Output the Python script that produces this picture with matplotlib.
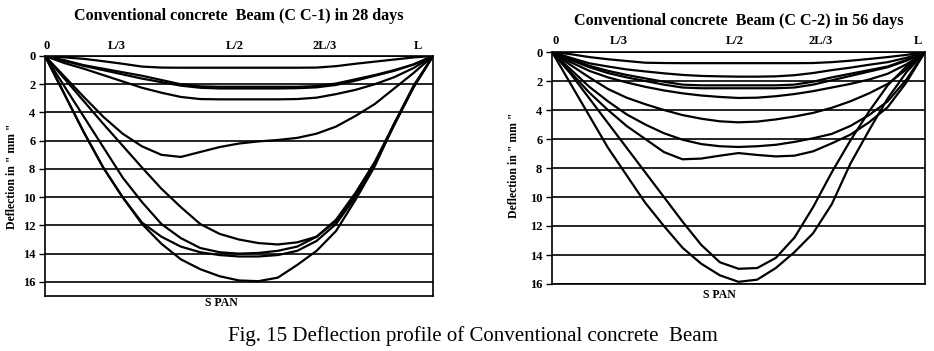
import matplotlib
matplotlib.use("Agg")
import matplotlib.pyplot as plt

# ---------------- data ----------------
span_pos = [0.0, 0.05, 0.10, 0.15, 0.20, 0.25, 0.30, 0.35, 0.40, 0.45, 0.50,
            0.55, 0.60, 0.65, 0.70, 0.75, 0.80, 0.85, 0.90, 0.95, 1.0]

# CC-1, 28 days (deflection in mm)
cc1_a = [0, 0.1, 0.2, 0.37, 0.55, 0.75, 0.82, 0.83, 0.83, 0.83, 0.83, 0.83, 0.83, 0.83, 0.82, 0.72, 0.55, 0.4, 0.25, 0.1, 0]
cc1_b = [0, 0.3, 0.65, 0.9, 1.15, 1.4, 1.7, 2.0, 2.15, 2.18, 2.18, 2.18, 2.18, 2.18, 2.13, 1.95, 1.65, 1.35, 1.0, 0.6, 0]
cc1_c = [0, 0.35, 0.7, 1.0, 1.3, 1.6, 1.85, 2.1, 2.25, 2.3, 2.3, 2.3, 2.3, 2.28, 2.22, 2.05, 1.75, 1.4, 1.05, 0.6, 0]
cc1_d = [0, 0.5, 0.9, 1.35, 1.8, 2.25, 2.6, 2.9, 3.05, 3.07, 3.07, 3.07, 3.07, 3.05, 2.95, 2.7, 2.4, 2.0, 1.5, 0.85, 0]
cc1_e = [0, 1.45, 2.9, 4.3, 5.5, 6.4, 7.0, 7.15, 6.8, 6.45, 6.2, 6.05, 5.95, 5.8, 5.5, 5.0, 4.25, 3.4, 2.3, 1.2, 0]
cc1_f = [0, 1.6, 3.2, 4.8, 6.35, 7.9, 9.4, 10.7, 11.9, 12.6, 13.0, 13.25, 13.35, 13.2, 12.8, 11.6, 9.7, 7.5, 4.8, 2.2, 0]
cc1_g = [0, 2.15, 4.3, 6.45, 8.6, 10.35, 11.9, 12.9, 13.6, 13.9, 14.0, 13.95, 13.8, 13.5, 12.8, 11.7, 9.9, 7.6, 4.8, 2.2, 0]
cc1_h = [0, 2.7, 5.4, 7.9, 10.0, 11.8, 12.8, 13.5, 13.9, 14.1, 14.2, 14.2, 14.1, 13.8, 13.1, 11.9, 10.0, 7.7, 4.9, 2.2, 0]
cc1_i = [0, 2.7, 5.4, 7.9, 10.0, 11.9, 13.3, 14.4, 15.1, 15.6, 15.9, 15.95, 15.7, 14.8, 13.8, 12.4, 10.2, 7.8, 4.8, 2.1, 0]

# CC-2, 56 days (deflection in mm)
cc2_a = [0, 0.15, 0.35, 0.5, 0.62, 0.74, 0.76, 0.77, 0.77, 0.77, 0.77, 0.77, 0.77, 0.77, 0.76, 0.7, 0.6, 0.48, 0.35, 0.2, 0]
cc2_b = [0, 0.4, 0.78, 1.0, 1.2, 1.34, 1.47, 1.58, 1.65, 1.68, 1.7, 1.7, 1.68, 1.6, 1.45, 1.25, 1.08, 0.88, 0.7, 0.4, 0]
cc2_c = [0, 0.5, 0.95, 1.3, 1.58, 1.82, 2.05, 2.25, 2.3, 2.3, 2.3, 2.3, 2.3, 2.25, 2.05, 1.75, 1.5, 1.25, 1.0, 0.55, 0]
cc2_d = [0, 0.55, 1.05, 1.45, 1.75, 2.0, 2.25, 2.45, 2.5, 2.5, 2.5, 2.5, 2.5, 2.45, 2.25, 1.95, 1.65, 1.35, 1.05, 0.6, 0]
cc2_e = [0, 0.7, 1.3, 1.75, 2.1, 2.4, 2.65, 2.85, 3.0, 3.1, 3.17, 3.15, 3.05, 2.9, 2.7, 2.45, 2.2, 1.9, 1.5, 0.85, 0]
cc2_f = [0, 0.9, 1.75, 2.55, 3.15, 3.6, 4.0, 4.35, 4.6, 4.78, 4.85, 4.8, 4.65, 4.45, 4.2, 3.85, 3.4, 2.85, 2.2, 1.2, 0]
cc2_g = [0, 1.2, 2.4, 3.4, 4.3, 5.0, 5.6, 6.05, 6.35, 6.5, 6.55, 6.5, 6.4, 6.2, 5.95, 5.65, 5.1, 4.35, 3.4, 1.9, 0]
cc2_h = [0, 1.4, 2.8, 4.0, 5.1, 6.0, 6.9, 7.4, 7.35, 7.15, 6.97, 7.1, 7.2, 7.15, 6.85, 6.3, 5.7, 4.85, 3.8, 2.1, 0]
cc2_i = [0, 1.5, 3.2, 4.9, 6.6, 8.3, 10.0, 11.7, 13.3, 14.5, 14.95, 14.9, 14.2, 12.8, 10.7, 8.3, 6.1, 4.1, 2.3, 1.0, 0]
cc2_j = [0, 2.2, 4.4, 6.6, 8.5, 10.4, 12.0, 13.5, 14.6, 15.4, 15.85, 15.7, 14.9, 13.8, 12.5, 10.5, 7.7, 5.4, 3.2, 1.4, 0]

span_labels = ["0", "L/3", "L/2", "2L/3", "L"]
y_ticks = [0, 2, 4, 6, 8, 10, 12, 14, 16]

title_left = "Conventional concrete  Beam (C C-1) in 28 days"
title_right = "Conventional concrete  Beam (C C-2) in 56 days"
ylabel = 'Deflection in " mm "'
xlabel = "S PAN"
caption = "Fig. 15 Deflection profile of Conventional concrete  Beam"

# ---------------- figure ----------------
W, H = 934, 351
fig = plt.figure(figsize=(W / 100, H / 100), dpi=100)
serif = ["Liberation Serif", "DejaVu Serif"]


def px_axes(x0, y0, x1, y1):
    return fig.add_axes([x0 / W, 1 - y1 / H, (x1 - x0) / W, (y1 - y0) / H])


def style(ax, ymax, label_pos, curves, title, title_y, lab_y, xl_x, xl_y,
          ylab_x, ylab_y):
    for c in curves:
        ax.plot(span_pos, c, color="black", lw=1.6, solid_joinstyle="round")
    ax.set_xlim(0, 1)
    ax.set_ylim(ymax, 0)
    ax.set_yticks(y_ticks)
    ax.set_yticklabels([str(v) for v in y_ticks], fontfamily=serif,
                       fontweight="bold", fontsize=9)
    ax.tick_params(axis="y", length=4, width=1, color="black", pad=3)
    ax.set_xticks([])
    for v in y_ticks:
        ax.axhline(v, color="black", lw=1.2, zorder=0)
    for s in ax.spines.values():
        s.set_color("black")
        s.set_linewidth(1.2)
    # top span labels
    for p, t in zip(label_pos, span_labels):
        ax.text(p, lab_y, t, transform=ax.get_xaxis_transform(),
                ha="center", va="bottom", fontfamily=serif,
                fontweight="bold", fontsize=9)
    ax.text(xl_x, xl_y, xlabel, transform=ax.transAxes, ha="center", va="top",
            fontfamily=serif, fontweight="bold", fontsize=8.5)
    ax.set_ylabel(ylabel, fontfamily=serif, fontweight="bold", fontsize=8.5)
    ax.yaxis.set_label_coords(ylab_x, ylab_y)
    ax.set_title(title, fontfamily=serif, fontweight="bold", fontsize=11.6,
                 y=title_y)


ax1 = px_axes(45, 56, 433, 296)
style(ax1, 17.0, [0.005, 0.186, 0.49, 0.72, 0.96],
      [cc1_a, cc1_b, cc1_c, cc1_d, cc1_e, cc1_f, cc1_g, cc1_h, cc1_i],
      title_left, 1.115, 1.015, 0.454, -0.005, -0.07, 0.5)

ax2 = px_axes(552, 52, 925, 284)
style(ax2, 16.0, [0.01, 0.18, 0.49, 0.72, 0.98],
      [cc2_a, cc2_b, cc2_c, cc2_d, cc2_e, cc2_f, cc2_g, cc2_h, cc2_i, cc2_j],
      title_right, 1.08, 1.02, 0.45, -0.02, -0.086, 0.51)

fig.text(473 / W, 1 - 336 / H, caption, ha="center", va="center",
         fontfamily=serif, fontsize=15)

fig.savefig("out.png", dpi=100)
